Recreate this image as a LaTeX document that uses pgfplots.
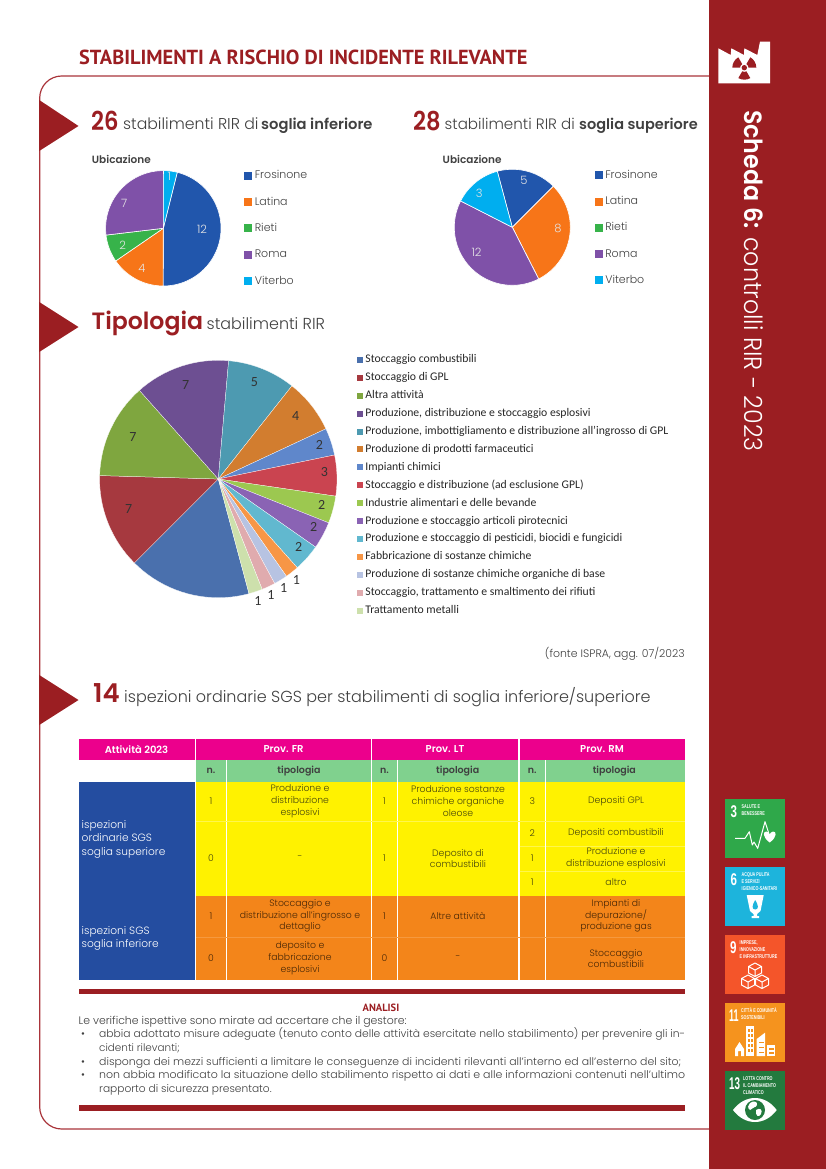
\documentclass[border=0pt]{standalone}
\usepackage{fontspec}
\usepackage{graphicx}
\usepackage{pgfplots}
\pgfplotsset{compat=1.18}
\setmainfont{Poppins}[UprightFont=* Light, BoldFont=* SemiBold]
\newfontfamily\carl{Carlito}
\newfontfamily\ptsans{PT Sans}
\newfontfamily\libs{Liberation Sans}
\newcommand\fs[1]{\fontsize{#1}{#1}\selectfont}
\definecolor{rr}{HTML}{9B1E22}
\definecolor{frame}{HTML}{A9343A}
\definecolor{txt}{HTML}{404040}
\definecolor{c1}{HTML}{2156AC}\definecolor{c2}{HTML}{F77518}\definecolor{c3}{HTML}{37B34A}\definecolor{c4}{HTML}{7F51A8}\definecolor{c5}{HTML}{00AEEF}
\definecolor{t1}{HTML}{4A70AD}\definecolor{t2}{HTML}{A6393F}\definecolor{t3}{HTML}{7FA63F}\definecolor{t4}{HTML}{6D4F92}\definecolor{t5}{HTML}{4D9AB1}
\definecolor{t6}{HTML}{D27D2F}\definecolor{t7}{HTML}{5F87CB}\definecolor{t8}{HTML}{CA4450}\definecolor{t9}{HTML}{9CC850}\definecolor{t10}{HTML}{8A63B4}
\definecolor{t11}{HTML}{61B8CF}\definecolor{t12}{HTML}{F79646}\definecolor{t13}{HTML}{B7C3E2}\definecolor{t14}{HTML}{E0ABAE}\definecolor{t15}{HTML}{CDE0AC}
\definecolor{tm}{HTML}{EC008C}\definecolor{tg}{HTML}{80D18E}\definecolor{ty}{HTML}{FFF200}\definecolor{to}{HTML}{F3851A}\definecolor{tb}{HTML}{244DA0}
\definecolor{ly}{HTML}{FFF64D}\definecolor{lo}{HTML}{F5993F}
\definecolor{ity}{HTML}{47470C}\definecolor{ito}{HTML}{4A2806}
\definecolor{s3}{HTML}{2FA84A}\definecolor{s6}{HTML}{1DB4DC}\definecolor{s9}{HTML}{F4552A}\definecolor{s11}{HTML}{F5931E}\definecolor{s13}{HTML}{237A3E}
% pie slices: the values are the first argument of \slice
\newcommand\pieinit[3]{\gdef\pietot{#1}\gdef\piecum{0}\gdef\piestart{#2}\gdef\pieR{#3}}
\def\pielw{0.6pt}
\newcommand\slice[3]{%
  \pgfmathsetmacro\aA{\piestart+(\piecum/\pietot)*360}%
  \pgfmathsetmacro\aB{\aA+(#1/\pietot)*360}%
  \pgfmathtruncatemacro\nn{max(2,ceil((\aB-\aA)/3))}%
  \gdef\pts{(0,0)}%
  \foreach \i in {0,...,\nn}{%
    \pgfmathsetmacro\aa{\aA+(\aB-\aA)*\i/\nn}%
    \pgfmathsetmacro\piex{\pieR*sin(\aa)}%
    \pgfmathsetmacro\piey{\pieR*cos(\aa)}%
    \xdef\pts{\pts (\piex,\piey)}%
  }%
  \edef\doit{\noexpand\addplot[fill=#2,draw=white,line width=\pielw] coordinates {\pts (0,0)};}\doit
  \addlegendentry{#3}%
  \pgfmathsetmacro\newc{\piecum+#1}\xdef\piecum{\newc}%
}
\pgfplotsset{pieaxis/.style={hide axis,scale only axis,clip=false,
  legend cell align=left,
  legend image code/.code={\path[##1,draw=none] (0pt,-4pt) rectangle (8pt,4pt);},
}}
\newcommand\tl[4][]{\node[anchor=base west,inner sep=0pt,#1] at (#2,#3) {#4};}
\newcommand\cc[4][]{\node[anchor=center,inner sep=0pt,align=center,#1] at (#2,#3) {#4};}
\newcommand\rect[5]{\fill[#5] (#1,#2) rectangle (#3,#4);}
\begin{document}
\begin{tikzpicture}
\path[use as bounding box] (0,0) rectangle (826pt,-1169pt);
\begin{scope}[x=1pt,y=-1pt]
% sidebar and frame
\rect{709}{0}{826}{1169}{rr}
\draw[frame,line width=1.2pt,rounded corners=22pt] (709,76) -- (39.7,76) -- (39.7,1129) -- (709,1129);
\fill[rr] (39.2,100) -- (78.5,126) -- (39.2,151) -- cycle;
\fill[rr] (39.2,302) -- (78.5,327) -- (39.2,352) -- cycle;
\fill[rr] (39.2,675) -- (78.5,700) -- (39.2,725) -- cycle;
% titles
\tl{79}{64.5}{\ptsans\bfseries\fs{20.35}\color{rr}STABILIMENTI A RISCHIO DI INCIDENTE RILEVANTE}
\tl{91}{130.5}{\scalebox{.87}[1]{\bfseries\fs{26}\color{rr}26}}
\tl{123}{130}{\fs{15.7}\color{txt}stabilimenti RIR di}
\tl{261}{130}{\bfseries\fs{14.7}\color{txt}soglia inferiore}
\tl{413}{130.5}{\scalebox{.87}[1]{\bfseries\fs{26}\color{rr}28}}
\tl{444.5}{130}{\fs{15.1}\color{txt}stabilimenti RIR di}
\tl{579}{130}{\bfseries\fs{14.5}\color{txt}soglia superiore}
\tl{91.5}{329.5}{\bfseries\fs{23.6}\color{rr}Tipologia}
\tl{206.5}{329.5}{\fs{15.9}\color{txt}stabilimenti RIR}
\tl{93}{702}{\bfseries\fs{26}\color{rr}14}
\tl{124}{702}{\fs{16}\color{txt}ispezioni ordinarie SGS per stabilimenti di soglia inferiore/superiore}
\tl{91.7}{164}{\bfseries\fs{10.5}\color{txt}Ubicazione}
\tl{442.5}{164}{\bfseries\fs{10.5}\color{txt}Ubicazione}
\node[anchor=base east,inner sep=0pt] at (685,657.5) {\fs{10.9}\color{txt}(fonte ISPRA, agg. 07/2023};
% table fills
\rect{78.5}{738.5}{194.8}{760}{tm}
\rect{196}{738.5}{371}{760}{tm}
\rect{372.2}{738.5}{518.3}{760}{tm}
\rect{519.6}{738.5}{684.7}{760}{tm}
\rect{196}{760}{226}{781.7}{tg}\rect{227.2}{760}{371}{781.7}{tg}
\rect{372.2}{760}{396.8}{781.7}{tg}\rect{398}{760}{518.3}{781.7}{tg}
\rect{519.6}{760}{545}{781.7}{tg}\rect{546.2}{760}{684.7}{781.7}{tg}
\rect{78.5}{781.7}{194.8}{980}{tb}
\rect{196}{781.7}{226}{895.7}{ty}\rect{227.2}{781.7}{371}{895.7}{ty}
\rect{372.2}{781.7}{396.8}{895.7}{ty}\rect{398}{781.7}{518.3}{895.7}{ty}
\rect{519.6}{781.7}{545}{895.7}{ty}\rect{546.2}{781.7}{684.7}{895.7}{ty}
\rect{196}{895.7}{226}{980}{to}\rect{227.2}{895.7}{371}{980}{to}
\rect{372.2}{895.7}{396.8}{980}{to}\rect{398}{895.7}{518.3}{980}{to}
\rect{519.6}{895.7}{545}{980}{to}\rect{546.2}{895.7}{684.7}{980}{to}
\draw[ly,line width=.5pt] (196,821.7)--(684.7,821.7);
\draw[ly,line width=.5pt] (519.6,846.3)--(684.7,846.3) (519.6,871.7)--(684.7,871.7);
\draw[lo,line width=.5pt] (196,937.5)--(684.7,937.5);
\fill[white] (226,821.7) rectangle (227.2,895.7);
\fill[white] (396.8,821.7) rectangle (398,895.7);
\fill[white] (545,821.7) rectangle (546.2,895.7);
% table text
\begin{scope}[every node/.append style={text=white,font=\bfseries\fs{10}}]
\cc{136.5}{749}{Attività 2023}\cc{283.5}{749}{Prov. FR}\cc{445}{749}{Prov. LT}\cc{602}{749}{Prov. RM}
\end{scope}
\begin{scope}[every node/.append style={text=txt,font=\bfseries\fs{9.5}}]
\cc{211}{771}{n.}\cc{299}{771}{tipologia}\cc{384.5}{771}{n.}\cc{457.7}{771}{tipologia}\cc{532.3}{771}{n.}\cc{614.3}{771}{tipologia}
\end{scope}
\begin{scope}[every node/.append style={text=white,font=\fontsize{10.6}{13.4}\selectfont,align=left}]
\tl{81.5}{828}{ispezioni}\tl{81.5}{841.5}{ordinarie SGS}\tl{81.5}{855}{soglia superiore}
\tl{81.5}{934}{ispezioni SGS}\tl{81.5}{947.5}{soglia inferiore}
\end{scope}
\begin{scope}[every node/.append style={text=ity,font=\fontsize{9.3}{11.7}\selectfont}]
\cc{211}{801}{1}\cc{300}{801}{Produzione e\\distribuzione\\esplosivi}
\cc{211}{858}{0}\cc{300}{858}{-}
\cc{384.5}{801}{1}\cc{458}{801}{Produzione sostanze\\chimiche organiche\\oleose}
\cc{384.5}{858}{1}\cc{458}{858.5}{Deposito di\\combustibili}
\cc{532.3}{801}{3}\cc{616}{801}{Depositi GPL}
\cc{532.3}{833.5}{2}\cc{616}{833.5}{Depositi combustibili}
\cc{532.3}{858.5}{1}\cc{616}{858.5}{Produzione e\\distribuzione esplosivi}
\cc{532.3}{882.5}{1}\cc{616}{882.5}{altro}
\end{scope}
\begin{scope}[every node/.append style={text=ito,font=\fontsize{9.3}{11.7}\selectfont}]
\cc{211}{916}{1}\cc{300}{916}{Stoccaggio e\\distribuzione all'ingrosso e\\dettaglio}
\cc{211}{958}{0}\cc{300}{958}{deposito e\\fabbricazione\\esplosivi}
\cc{384.5}{916}{1}\cc{458}{916}{Altre attività}
\cc{384.5}{958}{0}\cc{458}{958}{-}
\cc{616}{916}{Impianti di\\depurazione/\\produzione gas}
\cc{616}{958.5}{Stoccaggio\\combustibili}
\end{scope}
% analysis
\rect{79}{988.5}{685}{994}{rr}
\rect{79}{1105}{685}{1110.5}{rr}
\cc[font=\ptsans\bfseries\fs{10.5},text=rr]{381}{1008}{ANALISI}
\begin{scope}[every node/.append style={text=txt,font=\fs{10.6}}]
\tl{78.5}{1024}{\fs{10.9}Le verifiche ispettive sono mirate ad accertare che il gestore:}
\tl{81}{1037.8}{•}\tl{99}{1037.8}{\resizebox{586pt}{\height}{abbia adottato misure adeguate (tenuto conto delle attività esercitate nello stabilimento) per prevenire gli in-}}
\tl{99}{1051}{\fs{10.4}cidenti rilevanti;}
\tl{81}{1065}{•}\tl{99}{1065}{\resizebox{582pt}{\height}{disponga dei mezzi sufficienti a limitare le conseguenze di incidenti rilevanti all'interno ed all'esterno del sito;}}
\tl{81}{1078.8}{•}\tl{99}{1078.8}{\resizebox{586pt}{\height}{non abbia modificato la situazione dello stabilimento rispetto ai dati e alle informazioni contenuti nell'ultimo}}
\tl{99}{1092.5}{rapporto di sicurezza presentato.}
\end{scope}
% sidebar text
\node[anchor=base west,inner sep=0pt,rotate=-90,text=white] at (744.5,110) {\scalebox{.95}[1]{\fs{25}\textbf{Scheda 6:} controlli RIR - 2023}};
% factory
\fill[white] (718.3,83.3)--(718.3,48.3)--(730.7,55)--(731.3,48.3)--(744,55)--(744.3,48.3)--(757.3,55)--(760,41.7)--(770,41.7)--(770,83.3)--cycle;
% SDG squares
\rect{725}{799}{784.5}{858.3}{s3}\rect{725}{867}{784.5}{926}{s6}\rect{725}{935}{784.5}{994}{s9}\rect{725}{1003}{784.5}{1062}{s11}\rect{725}{1071}{784.5}{1130}{s13}
\begin{scope}[every node/.append style={text=white}]
\newcommand\sdgn[4][.68]{\tl{#2}{#3}{\scalebox{#1}[1]{\libs\bfseries\fs{17}#4}}}
\newcommand\sdgl[3]{\tl{#1}{#2}{\scalebox{.68}[1]{\libs\bfseries\fs{5.5}#3}}}
\sdgn{730.5}{817}{3}\sdgl{741.5}{808}{SALUTE E}\sdgl{741.5}{815}{BENESSERE}
\sdgn{730.5}{885}{6}\sdgl{741.5}{876.5}{ACQUA PULITA}\sdgl{741.5}{883.5}{E SERVIZI}\sdgl{741.5}{890.5}{IGIENICO-SANITARI}
\sdgn{730}{953}{9}\sdgl{739.5}{944}{IMPRESE,}\sdgl{739.5}{951}{INNOVAZIONE}\sdgl{739.5}{958}{E INFRASTRUTTURE}
\sdgn[.53]{729}{1021}{11}\sdgl{741}{1012}{CITTÀ E COMUNITÀ}\sdgl{741}{1019}{SOSTENIBILI}
\sdgn[.58]{729}{1089}{13}\sdgl{743}{1080}{LOTTA CONTRO}\sdgl{743}{1087}{IL CAMBIAMENTO}\sdgl{743}{1094}{CLIMATICO}
\end{scope}
% SDG 3 icon
\draw[white,line width=1pt,line join=round] (735,838.3)--(745,838.3)--(749.3,831.7)--(752.3,845)--(754,842)--(757.7,848.3)--(765,821.7)--(769,834);
\fill[white] (769.7,842.5) .. controls (762,837) and (763,831) .. (766.5,831.5) .. controls (768,831.7) and (769.2,833) .. (769.7,834.5) .. controls (770.2,833) and (771.4,831.7) .. (773,831.5) .. controls (776.5,831) and (777.5,837) .. (769.7,842.5) -- cycle;
% SDG 6 icon
\fill[white] (746.7,895)--(763.7,895)--(760.5,911)--(757,914)--(757,916)--(759,916)--(759,918)--(751.5,918)--(751.5,916)--(753.5,916)--(753.5,914)--(750,911)--cycle;
\fill[s6] (755.2,900) .. controls (752,905) and (751.5,909.5) .. (755.2,909.5) .. controls (759,909.5) and (758.5,905) .. (755.2,900) -- cycle;
% SDG 9 icon
\begin{scope}[white,line width=1pt,line join=round]
\draw (755,963)--(761.5,966.5)--(761.5,973)--(755,976.5)--(748.5,973)--(748.5,966.5)--cycle (748.5,966.5)--(755,970)--(761.5,966.5) (755,970)--(755,976.5);
\draw (748,975)--(754.5,978.5)--(754.5,985)--(748,988.5)--(741.5,985)--(741.5,978.5)--cycle (741.5,978.5)--(748,982)--(754.5,978.5) (748,982)--(748,988.5);
\draw (762,975)--(768.5,978.5)--(768.5,985)--(762,988.5)--(755.5,985)--(755.5,978.5)--cycle (755.5,978.5)--(762,982)--(768.5,978.5) (762,982)--(762,988.5);
\end{scope}
% SDG 11 icon
\fill[white] (735,1049)--(739.5,1042)--(744,1049)--(744,1056)--(741,1056)--(741,1051)--(738,1051)--(738,1056)--(735,1056)--cycle;
\fill[white] (745.7,1026) rectangle (754.3,1056);
\fill[white] (756.7,1056)--(756.7,1039)--(765,1032.7)--(765,1056)--cycle;
\fill[white] (766.7,1045) rectangle (775,1056);
\begin{scope}[s11]
\foreach \yy in {1029,1034,1039,1044,1049}{\fill (747.5,\yy) rectangle (749.5,\yy+2.5);\fill (750.7,\yy) rectangle (752.7,\yy+2.5);}
\foreach \yy in {1042,1047,1052}{\fill (758.5,\yy) rectangle (763.5,\yy+1);}
\foreach \yy in {1048,1052}{\fill (768.5,\yy) rectangle (773.5,\yy+1.5);}
\end{scope}
% SDG 13 icon
\fill[white] (733,1110) .. controls (745,1094) and (765,1094) .. (776.7,1110) .. controls (765,1126) and (745,1126) .. (733,1110) -- cycle;
\fill[s13] (755,1110) circle (10pt);
\fill[white] (750,1103) .. controls (754,1100) and (758,1102) .. (757,1105) .. controls (756,1108) and (752,1107) .. (750,1110) .. controls (747,1108) and (748,1105) .. (750,1103) -- cycle;
\fill[white] (756,1110) .. controls (760,1107) and (763,1110) .. (761,1114) .. controls (759,1118) and (755,1116) .. (756,1110) -- cycle;
\end{scope}
% trefoil
\begin{scope}[shift={(744.3pt,-67.7pt)}]
\foreach \a in {30,150,270}{
\fill[rr] (\a-30:4.2pt) -- (\a-30:12pt) arc[start angle=\a-30,end angle=\a+30,radius=12pt] -- (\a+30:4.2pt) arc[start angle=\a+30,end angle=\a-30,radius=4.2pt] -- cycle;}
\fill[rr] (0,0) circle (2.7pt);
\end{scope}
% pie 1
\begin{axis}[pieaxis,at={(105.6pt,-286pt)},width=115.4pt,height=115.4pt,xmin=-57.7,xmax=57.7,ymin=-57.7,ymax=57.7,
 legend style={at={(axis description cs:1.2,1.03)},anchor=north west,draw=none,fill=none,inner sep=0pt,font=\fs{11},row sep=9.3pt,text=txt,
  nodes={inner sep=2.5pt,text height=9pt,text depth=3pt}}]
\pieinit{26}{14}{57.7}
\slice{12}{c1}{Frosinone}
\slice{4}{c2}{Latina}
\slice{2}{c3}{Rieti}
\slice{7}{c4}{Roma}
\slice{1}{c5}{Viterbo}
\begin{scope}[every node/.style={text=white!90!black,font=\fs{11.5}}]
\node at (axis cs:6,51.7) {1};\node at (axis cs:38.7,-0.7) {12};\node at (axis cs:-21.3,-40) {4};\node at (axis cs:-40.7,-16.7) {2};\node at (axis cs:-39,25) {7};
\end{scope}
\end{axis}
% pie 2: slices are drawn in the proportions seen in the picture, the printed labels are those of the picture
\begin{axis}[pieaxis,at={(454.3pt,-285.3pt)},width=116pt,height=116pt,xmin=-58,xmax=58,ymin=-58,ymax=58,
 legend style={at={(axis description cs:1.209,1.024)},anchor=north west,draw=none,fill=none,inner sep=0pt,font=\fs{11},row sep=9.3pt,text=txt,
  nodes={inner sep=2.5pt,text height=9pt,text depth=3pt}}]
\pieinit{30}{-15}{58}
\slice{5}{c1}{Frosinone}
\slice{9}{c2}{Latina}
\slice{0}{c3}{Rieti}
\slice{12}{c4}{Roma}
\slice{4}{c5}{Viterbo}
\begin{scope}[every node/.style={text=white!90!black,font=\fs{11.5}}]
\node at (axis cs:11.7,47.3) {5};\node at (axis cs:45.7,-1) {8};\node at (axis cs:-35.7,-24.7) {12};\node at (axis cs:-33,34) {3};
\end{scope}
\end{axis}
% pie 3
\def\pielw{0.25pt}
\begin{axis}[pieaxis,at={(99.6pt,-597.7pt)},width=237.4pt,height=237.4pt,xmin=-118.7,xmax=118.7,ymin=-118.7,ymax=118.7,
 legend image code/.code={\path[#1,draw=none] (0pt,-3pt) rectangle (6pt,3pt);},
 legend style={at={(axis description cs:1.083,1.036)},anchor=north west,draw=none,fill=none,inner sep=0pt,font=\carl\fs{11.7},row sep=1.9pt,text=black!85,
  nodes={inner sep=2.5pt,text height=8.5pt,text depth=2.5pt}}]
\pieinit{54}{165}{118.7}
\slice{9}{t1}{Stoccaggio combustibili}
\slice{7}{t2}{Stoccaggio di GPL}
\slice{7}{t3}{Altra attività}
\slice{7}{t4}{Produzione, distribuzione e stoccaggio esplosivi}
\slice{5}{t5}{Produzione, imbottigliamento e distribuzione all’ingrosso di GPL}
\slice{4}{t6}{Produzione di prodotti farmaceutici}
\slice{2}{t7}{Impianti chimici}
\slice{3}{t8}{Stoccaggio e distribuzione (ad esclusione GPL)}
\slice{2}{t9}{Industrie alimentari e delle bevande}
\slice{2}{t10}{Produzione e stoccaggio articoli pirotecnici}
\slice{2}{t11}{Produzione e stoccaggio di pesticidi, biocidi e fungicidi}
\slice{1}{t12}{Fabbricazione di sostanze chimiche}
\slice{1}{t13}{Produzione di sostanze chimiche organiche di base}
\slice{1}{t14}{Stoccaggio, trattamento e smaltimento dei rifiuti}
\slice{1}{t15}{Trattamento metalli}
\begin{scope}[every node/.style={text=black!80,font=\carl\fs{14}}]
\node at (axis cs:-32.6,94) {7};\node at (axis cs:36,97.3) {5};\node at (axis cs:77.4,63.3) {4};\node at (axis cs:101,34.3) {2};\node at (axis cs:106,6.7) {3};
\node at (axis cs:103.4,-25.7) {2};\node at (axis cs:95.4,-48.3) {2};\node at (axis cs:80.4,-67.7) {2};\node at (axis cs:78,-101) {1};\node at (axis cs:65.4,-108.7) {1};
\node at (axis cs:52.7,-116) {1};\node at (axis cs:39.7,-122) {1};\node at (axis cs:-89.6,-30.3) {7};\node at (axis cs:-85.3,41.7) {7};
\end{scope}
\end{axis}
\end{tikzpicture}
\end{document}
